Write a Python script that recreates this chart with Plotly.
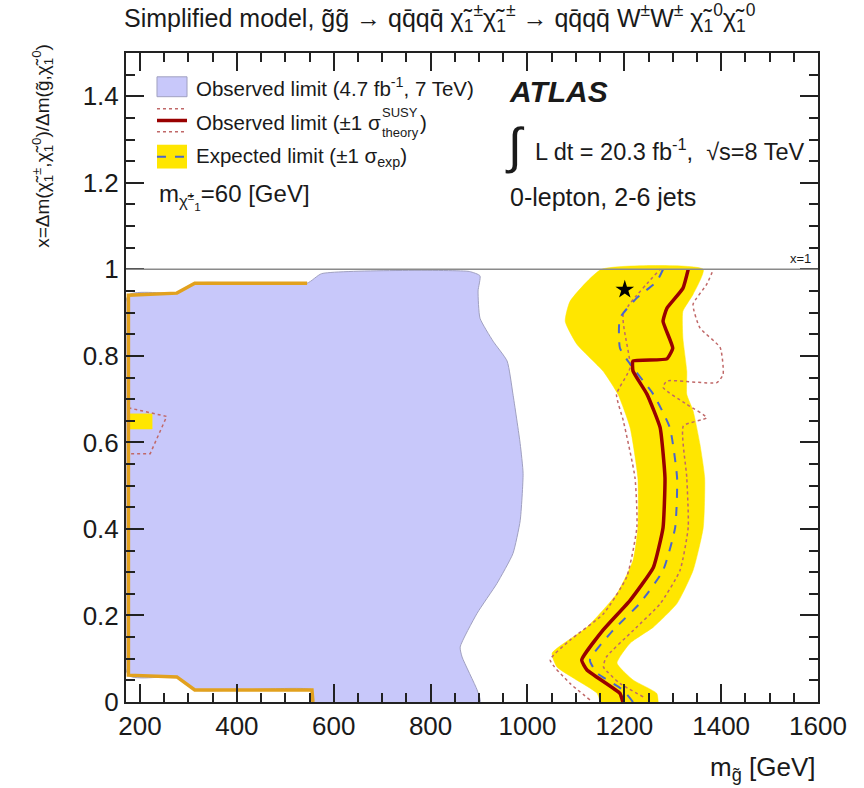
import plotly.graph_objects as go

FONT = "Liberation Sans, Arial, Helvetica, sans-serif"

X_RANGE = [171, 1600]
Y_RANGE = [0, 1.5]

# 7 TeV observed excluded region (filled polygon)
obs7_x = [176, 176, 276, 313, 545, 575, 880, 902, 898, 902, 929, 958, 970, 985, 991,
          985, 970, 937, 896, 861, 865, 896, 902, 557, 555, 313, 276, 176]
obs7_y = [0.062, 0.940, 0.945, 0.968, 0.968, 0.990, 0.995, 0.985, 0.950, 0.887, 0.834,
          0.788, 0.712, 0.597, 0.528, 0.419, 0.343, 0.274, 0.205, 0.127, 0.104, 0.028,
          0.0, 0.0, 0.028, 0.028, 0.058, 0.062]

# expected limit +-1 sigma band edges
band_left_x = [1150, 1144, 1061, 1051, 1123, 1185, 1218, 1228, 1228, 1212, 1187, 1156,
               1102, 1078, 1088, 1153]
band_left_y = [0.0, 0.020, 0.081, 0.113, 0.173, 0.251, 0.327, 0.403, 0.518, 0.634, 0.711,
               0.765, 0.827, 0.880, 0.926, 1.0]
band_right_x = [1363, 1342, 1321, 1321, 1329, 1329, 1342, 1356, 1366, 1363, 1342, 1309,
                1260, 1212, 1185, 1218, 1267, 1270]
band_right_y = [1.0, 0.942, 0.903, 0.841, 0.765, 0.711, 0.673, 0.597, 0.518, 0.403, 0.304,
                0.228, 0.173, 0.136, 0.090, 0.051, 0.020, 0.0]

# observed limit (8 TeV)
obs_x = [1197, 1191, 1123, 1112, 1156, 1212, 1260, 1280, 1284, 1274, 1247, 1218, 1218,
         1288, 1300, 1280, 1288, 1321, 1332]
obs_y = [0.0, 0.020, 0.074, 0.097, 0.166, 0.235, 0.311, 0.403, 0.518, 0.634, 0.711,
         0.765, 0.788, 0.793, 0.818, 0.880, 0.910, 0.956, 1.0]

# expected limit (8 TeV)
exp_x = [1218, 1197, 1144, 1129, 1177, 1232, 1280, 1305, 1309, 1294, 1260, 1212, 1191,
         1191, 1226, 1267, 1280]
exp_y = [0.0, 0.028, 0.067, 0.097, 0.166, 0.228, 0.304, 0.403, 0.518, 0.634, 0.711,
         0.781, 0.818, 0.887, 0.934, 0.972, 1.0]

# observed -1 sigma theory
obs_m1_x = [1129, 1088, 1047, 1088, 1157, 1205, 1226, 1222, 1198, 1184, 1212, 1198, 1274]
obs_m1_y = [0.005, 0.043, 0.097, 0.143, 0.204, 0.289, 0.404, 0.519, 0.650, 0.711, 0.773,
            0.896, 1.0]

# observed +1 sigma theory
obs_p1_x = [1239, 1191, 1157, 1163, 1219, 1274, 1315, 1332, 1329, 1322, 1370, 1329, 1280,
            1288, 1391, 1404, 1398, 1356, 1342, 1370, 1384]
obs_p1_y = [0.012, 0.043, 0.081, 0.104, 0.166, 0.227, 0.304, 0.404, 0.519, 0.638, 0.657,
            0.688, 0.727, 0.742, 0.738, 0.757, 0.819, 0.865, 0.919, 0.965, 1.0]

# low-mass contour edge
lowm_x = [557, 555, 313, 276, 176, 176, 276, 313, 545]
lowm_y = [0.0, 0.028, 0.028, 0.058, 0.062, 0.940, 0.945, 0.968, 0.968]

# small low-mass island
isle_x = [176, 225, 225, 176, 176]
isle_y = [0.631, 0.631, 0.666, 0.666, 0.631]
isle_dot_x = [176, 255, 221, 176]
isle_dot_y = [0.680, 0.660, 0.574, 0.574]

# benchmark point
star_x = [1201]
star_y = [0.953]

C_BLUE = "#C8C8FA"
C_YEL = "#FFE600"
C_OBS = "#990000"
C_EXP = "#4A66CC"
C_DOT = "#C06868"
C_ORG = "#E2A11E"
C_AX = "#222222"

PLOT_W, PLOT_H = 692, 649

fig = go.Figure()

fig.add_trace(go.Scatter(x=obs7_x, y=obs7_y, mode="lines", fill="toself",
                         fillcolor=C_BLUE, line=dict(color="#A0A0C0", width=1,
                                                      shape="spline", smoothing=0.5),
                         hoverinfo="skip"))
fig.add_trace(go.Scatter(x=band_left_x + band_right_x, y=band_left_y + band_right_y,
                         mode="lines", fill="toself", fillcolor=C_YEL,
                         line=dict(color=C_YEL, width=0.5, shape="spline", smoothing=0.5),
                         hoverinfo="skip"))
fig.add_trace(go.Scatter(x=isle_x, y=isle_y, mode="lines", fill="toself",
                         fillcolor=C_YEL, line=dict(color=C_YEL, width=0.5)))
for xs, ys in [(obs_m1_x, obs_m1_y), (obs_p1_x, obs_p1_y)]:
    fig.add_trace(go.Scatter(x=xs, y=ys, mode="lines",
                             line=dict(color=C_DOT, width=1.5, dash="dot",
                                       shape="spline", smoothing=0.5)))
fig.add_trace(go.Scatter(x=isle_dot_x, y=isle_dot_y, mode="lines",
                         line=dict(color=C_DOT, width=1.5, dash="dot")))
fig.add_trace(go.Scatter(x=exp_x, y=exp_y, mode="lines",
                         line=dict(color=C_EXP, width=2, dash="dash",
                                   shape="spline", smoothing=0.5)))
fig.add_trace(go.Scatter(x=obs_x, y=obs_y, mode="lines",
                         line=dict(color=C_OBS, width=3.5, shape="spline", smoothing=0.4)))
fig.add_trace(go.Scatter(x=lowm_x, y=lowm_y, mode="lines",
                         line=dict(color=C_ORG, width=3.5)))
fig.add_trace(go.Scatter(x=star_x, y=star_y, mode="markers",
                         marker=dict(symbol="star", size=14, color="black")))

shapes = [
    dict(type="line", xref="paper", x0=0, x1=1, yref="y", y0=1, y1=1,
         line=dict(color="#8A8A8A", width=1.5), layer="above"),
    dict(type="rect", xref="x", yref="y", x0=235, x1=297, y0=1.399, y1=1.445,
         fillcolor=C_BLUE, line=dict(color="#A0A0C0", width=1)),
    dict(type="line", xref="x", yref="y", x0=235, x1=297, y0=1.371, y1=1.371,
         line=dict(color=C_DOT, width=1.5, dash="dot")),
    dict(type="line", xref="x", yref="y", x0=235, x1=297, y0=1.344, y1=1.344,
         line=dict(color=C_OBS, width=3.5)),
    dict(type="line", xref="x", yref="y", x0=235, x1=297, y0=1.318, y1=1.318,
         line=dict(color=C_DOT, width=1.5, dash="dot")),
    dict(type="rect", xref="x", yref="y", x0=235, x1=297, y0=1.233, y1=1.288,
         fillcolor=C_YEL, line=dict(color=C_YEL, width=0)),
    dict(type="line", xref="x", yref="y", x0=235, x1=297, y0=1.260, y1=1.260,
         line=dict(color=C_EXP, width=2, dash="dash")),
]

txt = dict(family=FONT, color="#1a1a1a")
ann = []
def A(x, y, text, size, **kw):
    d = dict(x=x, y=y, xref="x", yref="y", text=text, showarrow=False,
             xanchor="left", yanchor="middle", font=dict(**txt, size=size))
    d.update(kw)
    ann.append(d)

A(311, 1.422, "Observed limit (4.7 fb<sup>-1</sup>, 7 TeV)", 20.5)
A(311, 1.340, "Observed limit (±1 σ", 20.5)
A(695, 1.362, "SUSY", 13)
A(695, 1.316, "theory", 13)
A(773, 1.340, ")", 20.5)
A(311, 1.260, "Expected limit (±1 σ<sub>exp</sub>)", 20.5)
A(235, 1.168, "m<sub>χ̃<sup>±</sup><sub>1</sub></sub>=60 [GeV]", 24)
A(958, 1.412, "<b><i>ATLAS</i></b>", 30)
A(950, 1.285, "∫", 50)
A(1011, 1.276, "L dt = 20.3 fb<sup>-1</sup>,  √s=8 TeV", 23.5)
A(960, 1.168, "0-lepton, 2-6 jets", 25)
A(1590, 1.025, "x=1", 13, xanchor="right")

# title
ann.append(dict(x=(122 - 126) / PLOT_W, y=(702 - 18) / PLOT_H, xref="paper", yref="paper",
                xanchor="left", yanchor="middle", showarrow=False,
                text="Simplified model, g̃g̃ → qq̄qq̄ χ̃<sub>1</sub><sup>±</sup>χ̃<sub>1</sub><sup>±</sup>"
                     " → qq̄qq̄ W<sup>±</sup>W<sup>±</sup> χ̃<sub>1</sub><sup>0</sup>χ̃<sub>1</sub><sup>0</sup>",
                font=dict(**txt, size=25)))
# y title
ann.append(dict(x=-0.12, y=0.857, xref="paper", yref="paper", textangle=-90,
                xanchor="center", yanchor="middle", showarrow=False,
                text="x=Δm(χ̃<sub>1</sub><sup>±</sup>,χ̃<sub>1</sub><sup>0</sup>)/Δm(g̃,χ̃<sub>1</sub><sup>0</sup>)",
                font=dict(**txt, size=19)))
# x title
ann.append(dict(x=1.0, y=-0.102, xref="paper", yref="paper",
                xanchor="right", yanchor="middle", showarrow=False,
                text="m<sub>g̃</sub> [GeV]", font=dict(**txt, size=26)))

axis_common = dict(showline=True, linecolor=C_AX, linewidth=2, mirror="ticks",
                   ticks="inside", ticklen=18, tickwidth=2, tickcolor=C_AX,
                   showgrid=False, zeroline=False,
                   tickfont=dict(family=FONT, size=26, color="#1a1a1a"))

fig.update_layout(
    width=864, height=788,
    margin=dict(l=126, r=46, t=53, b=86),
    paper_bgcolor="white", plot_bgcolor="white",
    showlegend=False,
    shapes=shapes, annotations=ann,
    xaxis=dict(range=X_RANGE, tick0=0, dtick=200,
               minor=dict(ticks="inside", ticklen=9, dtick=50,
                          tickcolor=C_AX, tickwidth=1.5),
               **axis_common),
    yaxis=dict(range=Y_RANGE, tick0=0, dtick=0.2,
               minor=dict(ticks="inside", ticklen=9, dtick=0.05,
                          tickcolor=C_AX, tickwidth=1.5),
               **axis_common),
)

fig.write_html("out.html")
